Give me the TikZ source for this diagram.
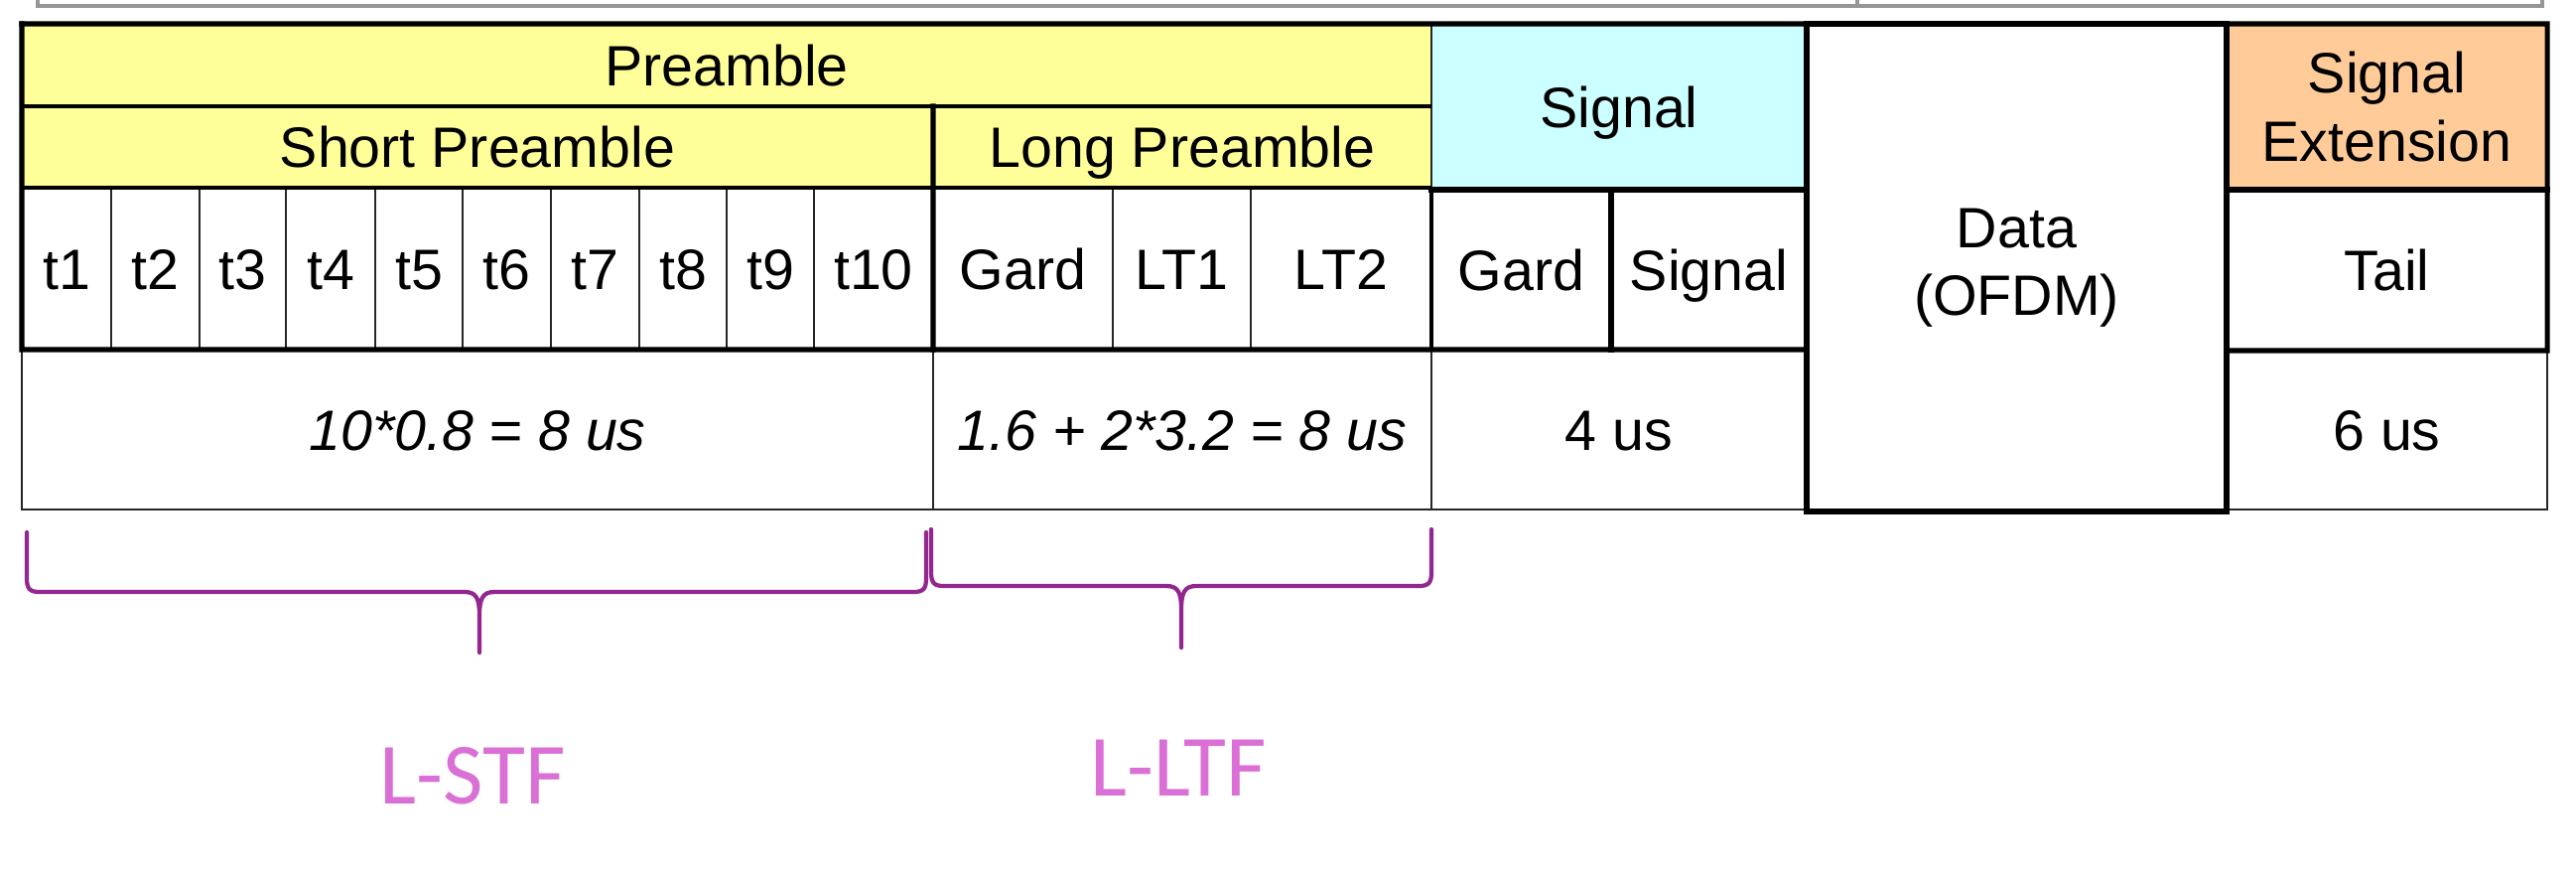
\documentclass[tikz,border=0pt]{standalone}
\usepackage{fontspec}
\setmainfont{Liberation Sans}
\newfontfamily\labfont{Carlito}
\definecolor{preY}{RGB}{255,255,153}
\definecolor{sigC}{RGB}{204,255,255}
\definecolor{extO}{RGB}{255,204,153}
\definecolor{brP}{RGB}{147,39,143}
\definecolor{labP}{RGB}{218,112,214}
\definecolor{rimG}{RGB}{150,150,150}
\newcommand\cellbox[7]{% name x1 y1 x2 y2 options text (one line)
  \pgfmathsetmacro\cw{(#4-#2)*0.01}\pgfmathsetmacro\ch{(#5-#3)*0.01}%
  \node[cell,oneline,#6,minimum width=\cw cm,minimum height=\ch cm] (#1)
    at ({(#2+#4)/2},{(#3+#5)/2}) {#7};}
\newcommand\cellboxm[7]{% name x1 y1 x2 y2 options text (several lines)
  \pgfmathsetmacro\cw{(#4-#2)*0.01}\pgfmathsetmacro\ch{(#5-#3)*0.01}%
  \node[cell,#6,minimum width=\cw cm,minimum height=\ch cm] (#1)
    at ({(#2+#4)/2},{(#3+#5)/2}) {#7};}
\begin{document}
\begin{tikzpicture}[x=0.01cm,y=-0.01cm,
  cell/.style={inner sep=0pt, outer sep=0pt, align=center, text=black,
    font=\fontsize{16.3}{19.5}\selectfont},
  oneline/.style={text height=11.9pt, text depth=0pt},
  ital/.style={font=\fontsize{16.3}{19.5}\selectfont\itshape},
  thk/.style={line width=1.45pt, line cap=rect, black},
  mid/.style={line width=0.9pt, black},
  thn/.style={line width=0.55pt, black!85},
  rim/.style={line width=0.9pt, rimG},
  brace/.style={line width=1.2pt, brP, line cap=round, line join=round},
  lab/.style={text=labP, font=\labfont\fontsize{25}{30}\selectfont}]
\useasboundingbox (0,0) rectangle (2595,878);
% partial rim of the table above
\coordinate (r1) at (38,0); \coordinate (r2) at (38,6);
\coordinate (r3) at (2561,6); \coordinate (r4) at (2561,0);
\coordinate (r5) at (1871,0); \coordinate (r6) at (1871,6);
\draw[rim] (r1) -- (r2) -- (r3) -- (r4);
\draw[rim] (r5) -- (r6);
% header cells
\cellbox{pre}{22}{24}{1442}{107}{fill=preY}{Preamble}
\cellbox{short}{22}{107}{940}{189}{fill=preY}{Short Preamble}
\cellbox{long}{940}{107}{1442}{189}{fill=preY}{Long Preamble}
\cellbox{sig}{1442}{24}{1820}{191}{fill=sigC}{Signal}
\cellboxm{data}{1820}{24}{2243}{515}{fill=white}{Data\\(OFDM)}
\cellboxm{sext}{2243}{24}{2566}{191}{fill=extO}{Signal\\Extension}
% t cells
\cellbox{t1}{22}{189}{112}{352}{}{t1}
\cellbox{t2}{112}{189}{201}{352}{}{t2}
\cellbox{t3}{201}{189}{288}{352}{}{t3}
\cellbox{t4}{288}{189}{378}{352}{}{t4}
\cellbox{t5}{378}{189}{466}{352}{}{t5}
\cellbox{t6}{466}{189}{555}{352}{}{t6}
\cellbox{t7}{555}{189}{644}{352}{}{t7}
\cellbox{t8}{644}{189}{732}{352}{}{t8}
\cellbox{t9}{732}{189}{820}{352}{}{t9}
\cellbox{t10}{820}{189}{940}{352}{}{t10}
\cellbox{gard1}{940}{189}{1121}{352}{}{Gard}
\cellbox{lt1}{1121}{189}{1260}{352}{}{LT1}
\cellbox{lt2}{1260}{189}{1442}{352}{}{LT2}
\cellbox{gard2}{1442}{191}{1623}{352}{}{Gard}
\cellbox{sigc}{1623}{191}{1820}{352}{}{Signal}
\cellbox{tail}{2243}{191}{2566}{353}{}{Tail}
% time row
\cellbox{time1}{22}{352}{940}{513}{ital}{10*0.8 = 8 us}
\cellbox{time2}{940}{352}{1442}{513}{ital}{1.6 + 2*3.2 = 8 us}
\cellbox{time3}{1442}{352}{1820}{513}{}{4 us}
\cellbox{time4}{2243}{353}{2566}{513}{}{6 us}
% thin lines
\foreach \a in {t1,t2,t3,t4,t5,t6,t7,t8,t9,gard1,lt1}
  \draw[thn] (\a.north east) -- (\a.south east);
\draw[thn] (sig.north west) -- (sig.south west);
\draw[thn] (time1.north west) -- (time1.south west) -- (time3.south east);
\draw[thn] (time1.north east) -- (time1.south east);
\draw[thn] (time2.north east) -- (time2.south east);
\draw[thn] (time4.north east) -- (time4.south east) -- (time4.south west);
% medium lines
\draw[mid] (short.south west) -- (long.south east);
\draw[mid] (pre.south west) -- (pre.south east);
\draw[mid] (lt2.north east) -- (lt2.south east);
% thick lines
\draw[thk] (pre.north west) -- (sext.north east) -- (tail.south east) -- (tail.south west);
\draw[thk] (pre.north west) -- (t1.south west) -- (sigc.south east);
\draw[thk] (short.north east) -- (t10.south east);
\draw[thk] (sig.south west) -- (sig.south east);
\draw[thk] (gard2.north east) -- (gard2.south east);
\draw[thk] (data.north west) rectangle (data.south east);
\draw[thk] (sext.south west) -- (sext.south east);
% braces
\coordinate (sa) at (27,536); \coordinate (sb) at (933,536); \coordinate (st) at (483,657);
\coordinate (la) at (938,533); \coordinate (lb) at (1442,533); \coordinate (lt) at (1190,652);
\draw[brace] (sa) -- (27,582) .. controls (27,593) and (30,596) .. (40,596) -- (468,596)
  .. controls (480,596) and (483,603) .. (483,620) -- (st)
  (st) -- (483,620) .. controls (483,603) and (486,596) .. (498,596) -- (920,596)
  .. controls (930,596) and (933,593) .. (933,582) -- (sb);
\draw[brace] (la) -- (938,576) .. controls (938,587) and (941,590) .. (951,590) -- (1175,590)
  .. controls (1187,590) and (1190,597) .. (1190,614) -- (lt)
  (lt) -- (1190,614) .. controls (1190,597) and (1193,590) .. (1205,590) -- (1429,590)
  .. controls (1439,590) and (1442,587) .. (1442,576) -- (lb);
\node[lab] (lstf) at (476,781) {L-STF};
\node[lab] (lltf) at (1187,773) {L-LTF};
\end{tikzpicture}
\end{document}
